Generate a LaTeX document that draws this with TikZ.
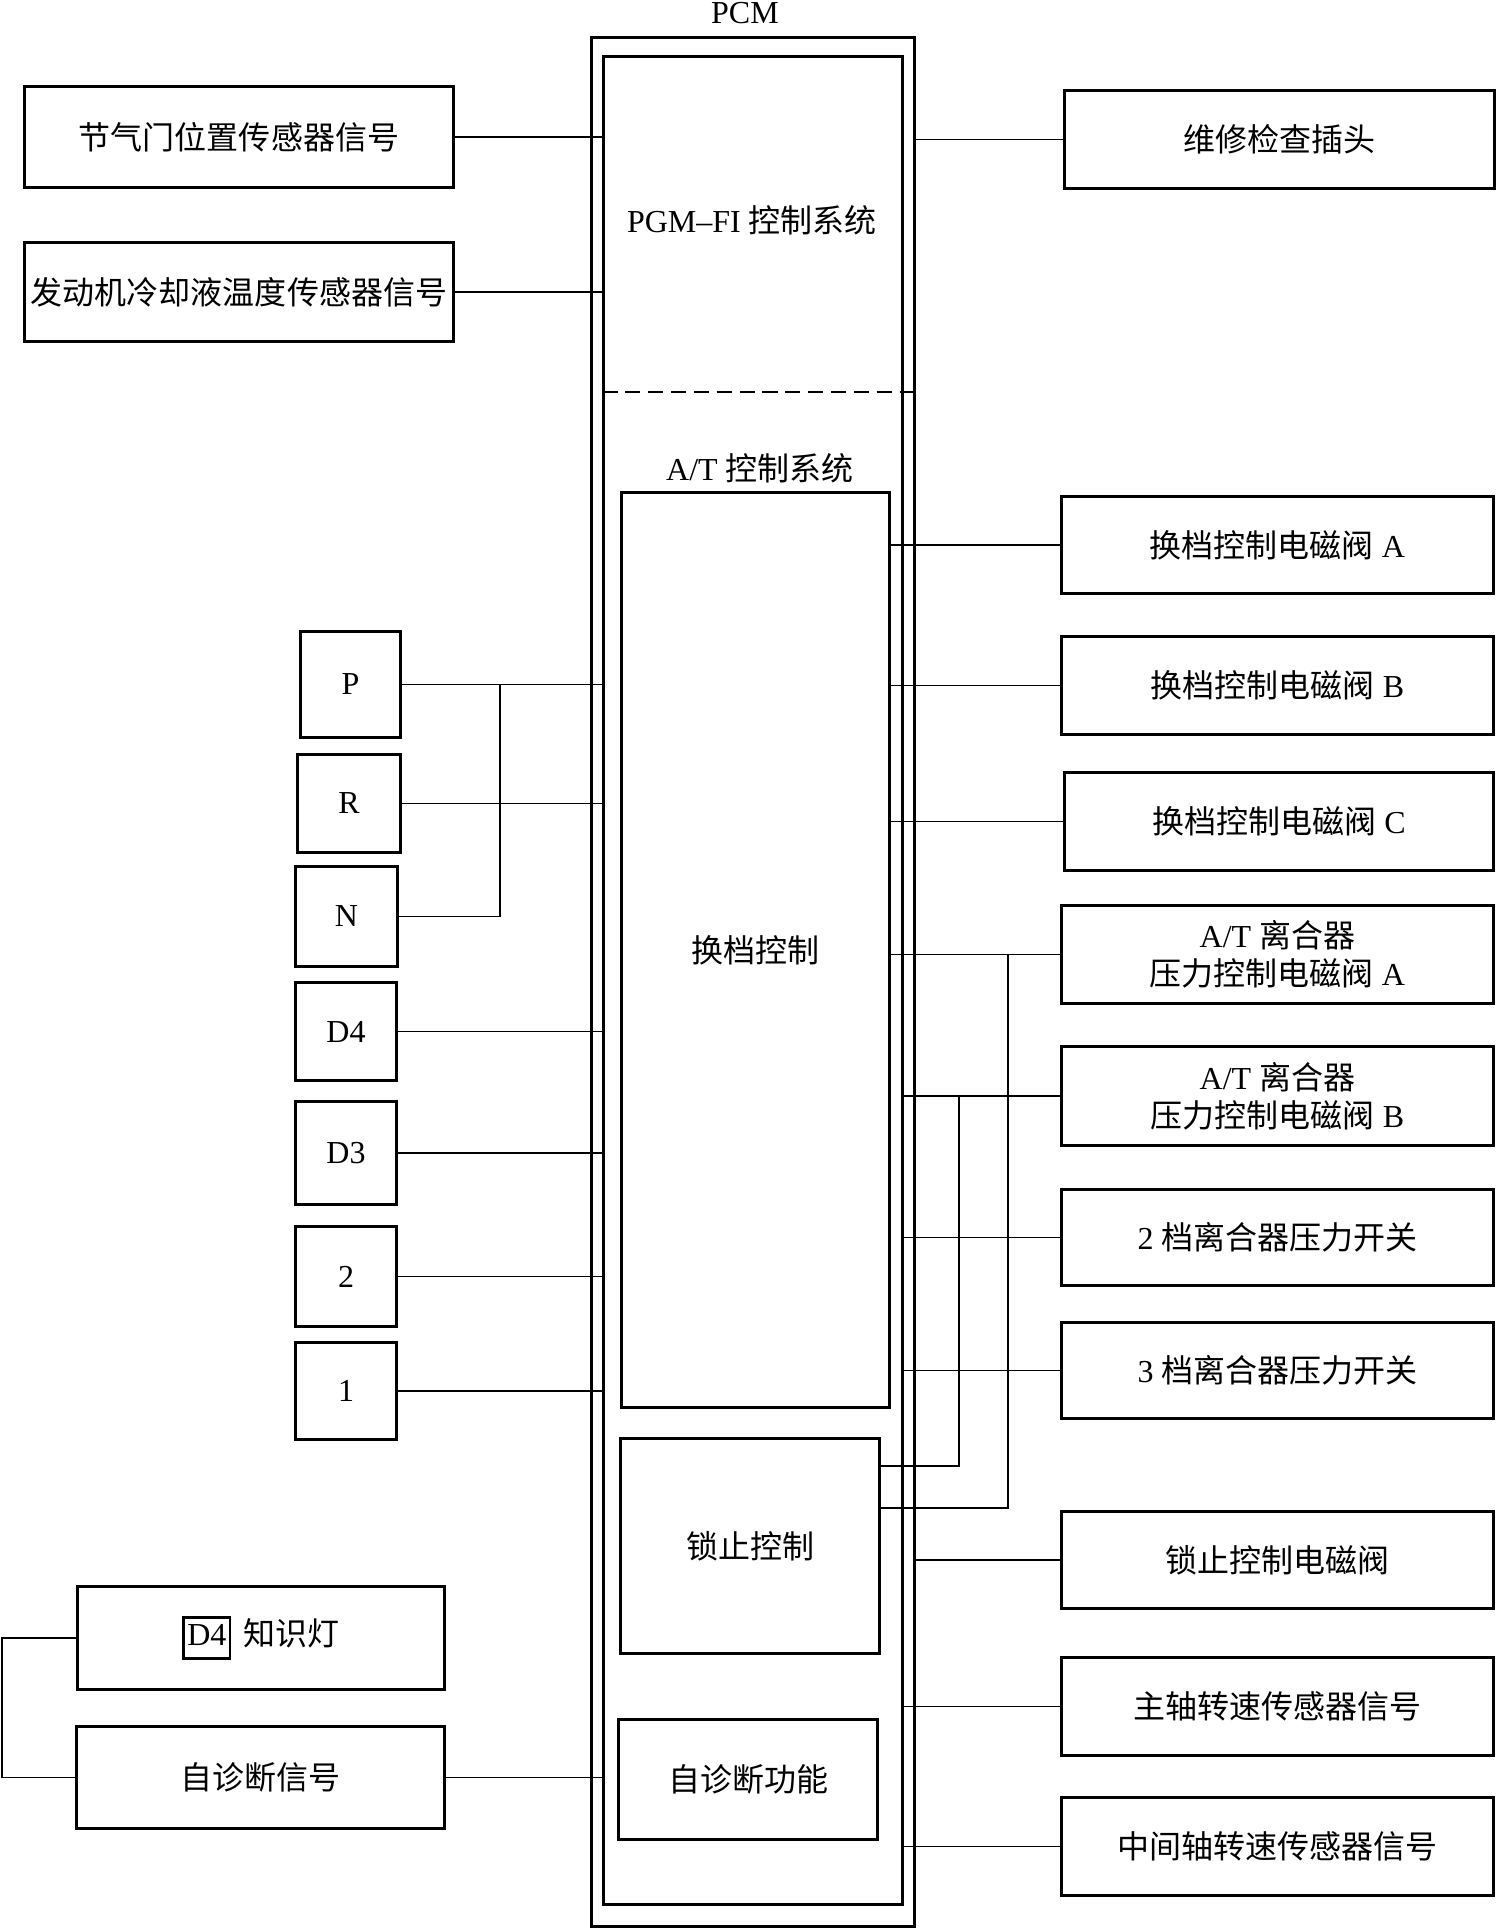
\documentclass[tikz,border=0pt]{standalone}
\usepackage{fontspec}
\setmainfont{Liberation Serif}
\newfontfamily\cjk{Noto Sans CJK SC}
\newcommand{\zh}[1]{{\cjk #1}}
\newcommand{\lampmark}{{\setlength{\fboxsep}{0.6pt}\setlength{\fboxrule}{0.8pt}\fbox{\rule[-2.6pt]{0pt}{9.6pt}D4}}}

\begin{document}
\begin{tikzpicture}[x=0.01cm, y=-0.01cm]
    \useasboundingbox (0,0) rectangle (1496,1929);
    %
    \tikzset{box/.style={draw, line width=0.85pt, inner sep=0pt, align=center, font=\fontsize{9.1}{10.8}\selectfont},
             lbl/.style={inner sep=0pt, align=center, font=\fontsize{9.1}{10.8}\selectfont},
             wire/.style={line width=0.55pt},
             thinwire/.style={line width=0.4pt}}

    %
    \node[box, minimum width=3.22cm, minimum height=18.88cm] (pcm) at (753,982) {};
    \node[box, minimum width=2.98cm, minimum height=18.47cm] (pcmin) at (753,980.5) {};
    \node[lbl] (pcmlbl) at (745,13) {PCM};
    \node[lbl] (fi) at (752,220) {PGM--FI \zh{控制系统}};
    \node[lbl] (at) at (760,468) {A/T \zh{控制系统}};
    \coordinate (split) at (753,392);
    \draw[line width=0.7pt, dash pattern=on 4.3pt off 2.2pt] (split -| pcmin.west) -- (split -| pcm.east);

    \node[box, minimum width=2.67cm, minimum height=9.14cm] (shift) at (755.5,950) {\zh{换档控制}};
    \node[box, minimum width=2.58cm, minimum height=2.14cm] (lock) at (750,1546) {\zh{锁止控制}};
    \node[box, minimum width=2.58cm, minimum height=1.19cm] (diag) at (748,1779.5) {\zh{自诊断功能}};

    %
    \node[box, minimum width=4.28cm, minimum height=1.00cm] (tps) at (239,137) {\zh{节气门位置传感器信号}};
    \node[box, minimum width=4.28cm, minimum height=0.99cm] (ect) at (239,292) {\zh{发动机冷却液温度传感器信号}};
    \node[box, minimum width=0.99cm, minimum height=1.05cm] (p) at (350.5,684.5) {P};
    \node[box, minimum width=1.02cm, minimum height=0.97cm] (r) at (349,803.5) {R};
    \node[box, minimum width=1.01cm, minimum height=0.99cm] (n) at (346.5,916.5) {N};
    \node[box, minimum width=1.00cm, minimum height=0.97cm] (dfour) at (346,1031.5) {D4};
    \node[box, minimum width=1.00cm, minimum height=1.02cm] (dthree) at (346,1153) {D3};
    \node[box, minimum width=1.00cm, minimum height=0.99cm] (two) at (346,1276.5) {2};
    \node[box, minimum width=1.00cm, minimum height=0.96cm] (one) at (346,1391) {1};
    \node[box, minimum width=3.66cm, minimum height=1.02cm] (lamp) at (261,1638) {\lampmark\hspace{3.5pt}\zh{知识灯}};
    \node[box, minimum width=3.67cm, minimum height=1.01cm] (diagsig) at (260.5,1777.5) {\zh{自诊断信号}};

    %
    \node[box, minimum width=4.29cm, minimum height=0.97cm] (svcplug) at (1279.5,139.5) {\zh{维修检查插头}};
    \node[box, minimum width=4.31cm, minimum height=0.96cm] (shA) at (1277.5,545) {\zh{换档控制电磁阀} A};
    \node[box, minimum width=4.31cm, minimum height=0.97cm] (shB) at (1277.5,685.5) {\zh{换档控制电磁阀} B};
    \node[box, minimum width=4.28cm, minimum height=0.97cm] (shC) at (1279,821.5) {\zh{换档控制电磁阀} C};
    \node[box, minimum width=4.31cm, minimum height=0.97cm] (clA) at (1277.5,954.5) {A/T \zh{离合器}\\\zh{压力控制电磁阀} A};
    \node[box, minimum width=4.31cm, minimum height=0.98cm] (clB) at (1277.5,1096) {A/T \zh{离合器}\\\zh{压力控制电磁阀} B};
    \node[box, minimum width=4.31cm, minimum height=0.95cm] (swtwo) at (1277.5,1237.5) {2 \zh{档离合器压力开关}};
    \node[box, minimum width=4.31cm, minimum height=0.95cm] (swthree) at (1277.5,1370.5) {3 \zh{档离合器压力开关}};
    \node[box, minimum width=4.31cm, minimum height=0.96cm] (lcsol) at (1277.5,1560) {\zh{锁止控制电磁阀}};
    \node[box, minimum width=4.31cm, minimum height=0.97cm] (mainsp) at (1277.5,1706.5) {\zh{主轴转速传感器信号}};
    \node[box, minimum width=4.31cm, minimum height=0.97cm] (cntsp) at (1277.5,1846.5) {\zh{中间轴转速传感器信号}};

    %
    \draw[wire] (tps.east) -- (tps.east -| pcmin.west);
    \draw[thinwire] (ect.east) -- (ect.east -| pcmin.west);
    \draw[wire] (p.east) -- (p.east -| pcmin.west);
    \draw[wire] (r.east) -- (r.east -| pcmin.west);
    \coordinate (jPN) at (500,684.5);
    \draw[thinwire] (n.east) -| (jPN);
    \foreach \k in {dfour,dthree,two,one}
        \draw[thinwire] (\k.east) -- (\k.east -| pcmin.west);
    \draw[wire] (diagsig.east) -- (diagsig.east -| pcmin.west);
    \coordinate (jL) at (2,1638);
    \draw[thinwire] (lamp.west) -- (jL) |- (diagsig.west);

    %
    \draw[wire] (svcplug.west -| pcm.east) -- (svcplug.west);
    \draw[thinwire] (shA.west -| shift.east) -- (shA.west);
    \draw[wire] (shB.west -| shift.east) -- (shB.west);
    \draw[wire] (shC.west -| shift.east) -- (shC.west);
    \draw[wire] (clA.west -| shift.east) -- (clA.west);
    \foreach \k in {clB,swtwo,swthree}
        \draw[wire] (\k.west -| pcmin.east) -- (\k.west);
    \draw[thinwire] (lcsol.west -| pcm.east) -- (lcsol.west);
    \draw[thinwire] (mainsp.west -| pcmin.east) -- (mainsp.west);
    \draw[thinwire] (cntsp.west -| pcmin.east) -- (cntsp.west);
    \coordinate (jB) at (959,1466);
    \coordinate (jA) at (1008,1508);
    \draw[wire] (jB -| lock.east) -- (jB) -- (jB |- clB.west);
    \draw[wire] (jA -| lock.east) -- (jA) -- (jA |- clA.west);

\end{tikzpicture}
\end{document}
